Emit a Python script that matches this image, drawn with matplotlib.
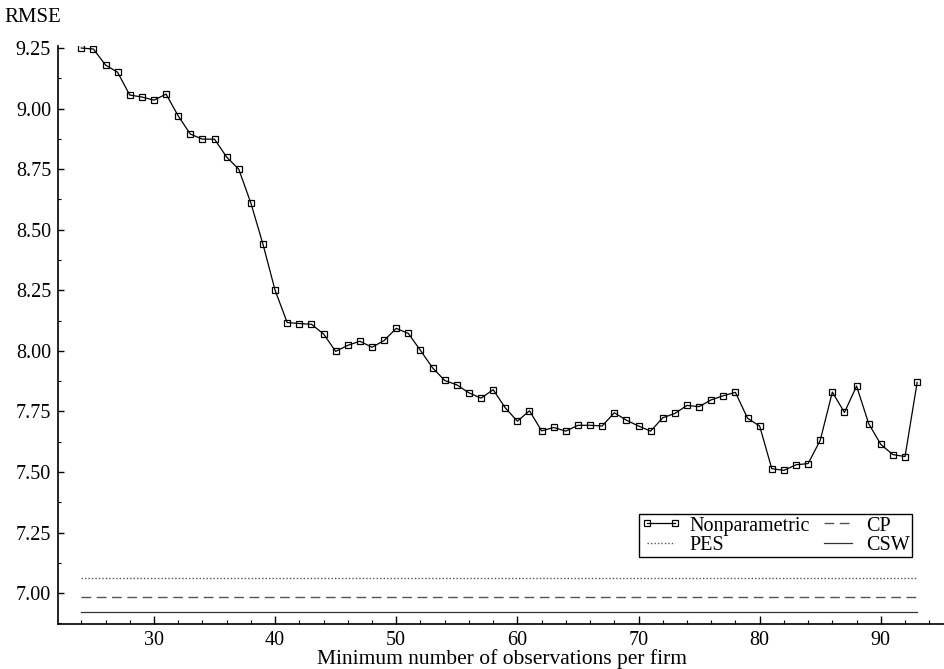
import matplotlib
matplotlib.use("Agg")
import matplotlib.pyplot as plt
from matplotlib.ticker import MultipleLocator, FormatStrFormatter

plt.rcParams['font.family'] = ['Liberation Serif', 'DejaVu Serif']

# minimum number of observations per firm
min_obs = list(range(24, 94))

# RMSE of the nonparametric estimator
rmse_np = [9.250, 9.246, 9.180, 9.150, 9.056, 9.048, 9.035, 9.060, 8.970, 8.895,
           8.874, 8.874, 8.800, 8.750, 8.610, 8.440, 8.250, 8.117, 8.113, 8.110,
           8.070, 7.998, 8.023, 8.040, 8.015, 8.043, 8.093, 8.072, 8.002, 7.930,
           7.878, 7.860, 7.827, 7.805, 7.840, 7.765, 7.710, 7.753, 7.670, 7.684,
           7.669, 7.693, 7.693, 7.690, 7.745, 7.714, 7.690, 7.669, 7.724, 7.742,
           7.775, 7.770, 7.798, 7.815, 7.829, 7.722, 7.690, 7.514, 7.507, 7.530,
           7.535, 7.631, 7.830, 7.746, 7.855, 7.700, 7.614, 7.572, 7.564, 7.870]

# parametric benchmarks (constant across the sample)
rmse_pes = 7.062
rmse_cp = 6.983
rmse_csw = 6.924

fig = plt.figure(figsize=(9.45, 6.69), dpi=100)
ax = fig.add_axes([0.0614, 0.0673, 0.9386, 0.8645])

ax.plot(min_obs, rmse_np, color='black', lw=0.9, marker='s', ms=5,
        mfc='none', mec='black', mew=0.9, label='Nonparametric')
ax.plot(min_obs, [rmse_cp] * len(min_obs), color='#555555', lw=1.0,
        ls=(0, (7, 4)), label='CP')
ax.plot(min_obs, [rmse_pes] * len(min_obs), color='#555555', lw=1.0,
        ls=(0, (1, 1.5)), label='PES')
ax.plot(min_obs, [rmse_csw] * len(min_obs), color='#333333', lw=0.9,
        label='CSW')

ax.set_xlim(22.08, 95.3)
ax.set_ylim(6.873, 9.26)

ax.xaxis.set_major_locator(MultipleLocator(10))
ax.xaxis.set_minor_locator(MultipleLocator(2))
ax.yaxis.set_major_locator(MultipleLocator(0.25))
ax.yaxis.set_minor_locator(MultipleLocator(0.125))
ax.yaxis.set_major_formatter(FormatStrFormatter('%.2f'))

for s in ['top', 'right']:
    ax.spines[s].set_visible(False)
for s in ['left', 'bottom']:
    ax.spines[s].set_linewidth(1.2)

ax.tick_params(axis='x', which='major', direction='in', length=6, width=1,
               labelsize=14.5, pad=5)
ax.tick_params(axis='x', which='minor', direction='in', length=3, width=0.8)
ax.tick_params(axis='y', which='major', direction='in', length=4.2, width=1,
               labelsize=14.5, pad=5)
ax.tick_params(axis='y', which='minor', direction='in', length=2.4, width=0.8)

fig.text(0.5 * (0.0614 + 1.0), 5 / 669,
         'Minimum number of observations per firm',
         ha='center', va='baseline', fontsize=15.5)
fig.text(4 / 945, 1 - 18 / 669, 'RMSE', ha='left', va='center', fontsize=15)

# legend order: Nonparametric, PES / CP, CSW (column-major)
h, l = ax.get_legend_handles_labels()
order = [0, 2, 1, 3]
leg = ax.legend([h[i] for i in order], [l[i] for i in order], ncol=2,
                loc='lower right', bbox_to_anchor=(0.9625, 0.1164),
                borderaxespad=0, fontsize=14.5, numpoints=2, markerscale=0.8,
                handlelength=2.0, handletextpad=0.4, columnspacing=0.4,
                labelspacing=0.0, borderpad=0.1, fancybox=False,
                framealpha=1, edgecolor='black')
leg.get_frame().set_linewidth(1.0)

fig.savefig('out.png', dpi=100)
